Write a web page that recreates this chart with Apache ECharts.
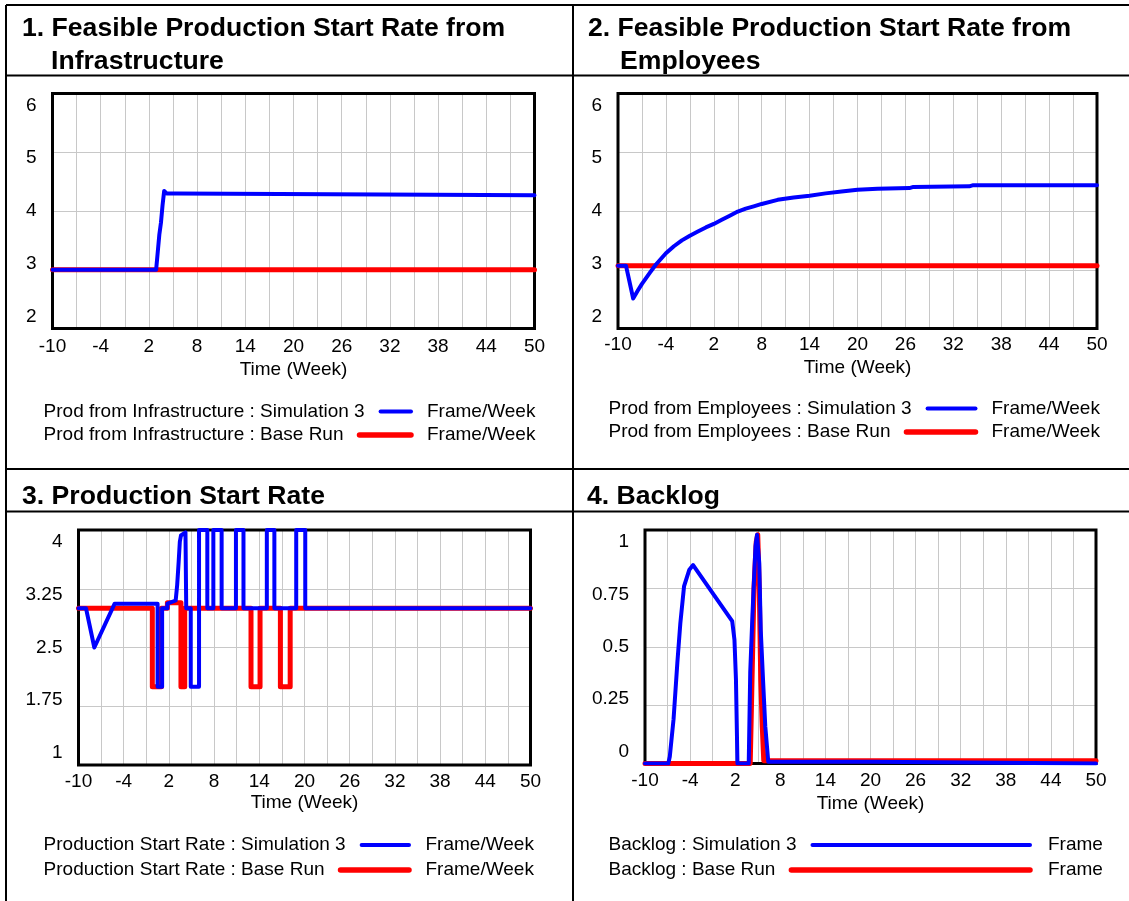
<!DOCTYPE html>
<html>
<head>
<meta charset="utf-8">
<script src="https://cdn.jsdelivr.net/npm/echarts@6/dist/echarts.min.js"></script>
<style>
html,body{margin:0;padding:0;background:#ffffff;}
#chart{width:1129px;height:901px;}
</style>
</head>
<body>
<div id="chart"></div>
<script>
// ---------------- DATA ----------------
const titles1 = ['1. Feasible Production Start Rate from', 'Infrastructure'];
const titles2 = ['2. Feasible Production Start Rate from', 'Employees'];
const titles3 = ['3. Production Start Rate'];
const titles4 = ['4. Backlog'];

const xAxisTitle = 'Time (Week)';
const xTickLabels = [-10, -4, 2, 8, 14, 20, 26, 32, 38, 44, 50];
const yTicks1 = [2, 3, 4, 5, 6];
const yTicks2 = [2, 3, 4, 5, 6];
const yTicks3 = [1, 1.75, 2.5, 3.25, 4];
const yTicks4 = [0, 0.25, 0.5, 0.75, 1];

const legend1Names = ['Prod from Infrastructure : Simulation 3', 'Prod from Infrastructure : Base Run'];
const legend2Names = ['Prod from Employees : Simulation 3', 'Prod from Employees : Base Run'];
const legend3Names = ['Production Start Rate : Simulation 3', 'Production Start Rate : Base Run'];
const legend4Names = ['Backlog : Simulation 3', 'Backlog : Base Run'];
const units1 = ['Frame/Week', 'Frame/Week'];
const units2 = ['Frame/Week', 'Frame/Week'];
const units3 = ['Frame/Week', 'Frame/Week'];
const units4 = ['Frame', 'Frame'];

// Panel 1: Prod from Infrastructure
const infraSimT = [-10, 2.9, 3.1, 3.3, 3.5, 3.7, 3.9, 4.2, 5.5, 5.7, 50];
const infraSimV = [3, 3, 3.3, 3.6, 3.8, 4.1, 4.34, 4.30, 4.30, 4.27, 4.27];
const infraBaseT = [-10, 50];
const infraBaseV = [3, 3];

// Panel 2: Prod from Employees
const empSimT = [-10, -9.0, -8.1, -7.5, -7, -6, -5.3, -4, -3, -2, -1, 0, 1, 2, 3, 4, 5, 6, 7, 8, 10, 12, 14, 16, 18, 20, 22.5, 26.5, 27, 34, 34.5, 50];
const empSimV = [3.07, 3.07, 2.51, 2.65, 2.76, 2.95, 3.08, 3.28, 3.4, 3.5, 3.58, 3.65, 3.72, 3.78, 3.85, 3.92, 3.99, 4.04, 4.08, 4.12, 4.19, 4.23, 4.26, 4.3, 4.33, 4.36, 4.38, 4.39, 4.41, 4.42, 4.44, 4.44];
const empBaseT = [-10, 50];
const empBaseV = [3.07, 3.07];

// Panel 3: Production Start Rate
const startSimT = [-10, -9.0, -7.9, -5.2, 0.5, 0.5, 1.1, 1.1, 1.8, 1.8, 2.9, 3.1, 3.3, 3.45, 3.6, 4.2, 4.3, 4.9, 4.9, 6.0, 6.0, 7.1, 7.1, 7.9, 7.9, 9.0, 9.0, 10.9, 10.9, 11.9, 11.9, 15.0, 15.0, 16.0, 16.0, 18.9, 18.9, 20.1, 20.1, 50];
const startSimV = [3, 3, 2.5, 3.06, 3.06, 2, 2, 3, 3, 3.06, 3.1, 3.3, 3.6, 3.85, 3.93, 3.97, 3, 3, 2, 2, 4, 4, 3, 3, 4, 4, 3, 3, 4, 4, 3, 3, 4, 4, 3, 3, 4, 4, 3, 3];
const startBaseT = [-10, -0.2, -0.2, 1.0, 1.0, 1.8, 1.8, 3.6, 3.6, 4.1, 4.1, 12.9, 12.9, 14.1, 14.1, 16.8, 16.8, 18.1, 18.1, 50];
const startBaseV = [3, 3, 2, 2, 3, 3, 3.07, 3.07, 2, 2, 3, 3, 2, 2, 3, 3, 2, 2, 3, 3];

// Panel 4: Backlog
const backlogSimT = [-10, -6.9, -6.7, -6.2, -5.7, -5.3, -4.8, -4.1, -3.6, 1.6, 1.9, 2.1, 2.3, 3.8, 4.0, 4.3, 4.7, 4.9, 5.2, 5.4, 5.7, 6.0, 6.4, 20.4, 20.6, 50];
const backlogSimV = [0, 0, 0.03, 0.19, 0.43, 0.6, 0.76, 0.83, 0.85, 0.61, 0.53, 0.36, 0, 0, 0.39, 0.64, 0.93, 0.98, 0.86, 0.57, 0.36, 0.16, 0.007, 0.007, 0, 0];
const backlogBaseT = [-10, 4.0, 4.2, 4.5, 4.8, 5.0, 5.2, 5.4, 5.6, 5.8, 50];
const backlogBaseV = [0, 0, 0.3, 0.75, 0.95, 0.98, 0.75, 0.36, 0.16, 0.012, 0.012];

// ---------------- LAYOUT ----------------
const FONT = '"Liberation Sans", Arial, sans-serif';
const BLUE = '#0000ff';
const RED = '#ff0000';
const W = 1129, H = 901;

const panels = [
  { grid: {left: 52.5, top: 93.5, width: 482, height: 235}, ticks: yTicks1, names: legend1Names, units: units1,
    sim: [infraSimT, infraSimV], base: [infraBaseT, infraBaseV],
    title: titles1, titleX: 22, titleX2: 51, titleY: 28.5,
    legY: [411.5, 435], legX: 43.6, lineEnd: 411, unitX: 427, labelMargin: 9, nameGap: 32 },
  { grid: {left: 618, top: 93.5, width: 479, height: 235}, ticks: yTicks2, names: legend2Names, units: units2,
    sim: [empSimT, empSimV], base: [empBaseT, empBaseV],
    title: titles2, titleX: 588, titleX2: 620, titleY: 28.5,
    legY: [408.5, 432], legX: 608.5, lineEnd: 975.5, unitX: 991.5, labelMargin: 7, nameGap: 30 },
  { grid: {left: 78.5, top: 530, width: 452, height: 235}, ticks: yTicks3, names: legend3Names, units: units3,
    sim: [startSimT, startSimV], base: [startBaseT, startBaseV],
    title: titles3, titleX: 22, titleY: 496.5,
    legY: [845, 870], legX: 43.6, lineEnd: 409, unitX: 425.5, labelMargin: 7, nameGap: 28 },
  { grid: {left: 645, top: 530, width: 451, height: 233.5}, ticks: yTicks4, names: legend4Names, units: units4,
    sim: [backlogSimT, backlogSimV], base: [backlogBaseT, backlogBaseV],
    title: titles4, titleX: 587, titleY: 496.5,
    legY: [845, 870], legX: 608.5, lineEnd: 1030, unitX: 1048, labelMargin: 8, nameGap: 31 }
];

const LABEL_INSET = 12;

function pairs(t, v) { return t.map((x, i) => [x, v[i]]); }

const measureCtx = document.createElement('canvas').getContext('2d');
function textWidth(str, font) { measureCtx.font = font; return measureCtx.measureText(str).width; }

const grids = [], xAxes = [], yAxes = [], series = [], graphics = [];

panels.forEach((p, k) => {
  grids.push(Object.assign({ show: false, containLabel: false }, p.grid));
  const lo = p.ticks[0], hi = p.ticks[p.ticks.length - 1];
  const hgt = p.grid.height;
  const d = (hi - lo) * LABEL_INSET / (hgt - 2 * LABEL_INSET);

  xAxes.push({
    type: 'value', gridIndex: k, min: xTickLabels[0], max: xTickLabels[xTickLabels.length - 1], interval: 3,
    axisLine: { show: false }, axisTick: { show: false },
    splitLine: { show: true, lineStyle: { color: '#c8c8c8', width: 1 } },
    axisLabel: { color: '#000', fontFamily: FONT, fontSize: 19, margin: p.labelMargin,
      formatter: v => (xTickLabels.indexOf(Math.round(v)) >= 0 && Math.abs(v - Math.round(v)) < 1e-6) ? String(Math.round(v)) : '' },
    name: xAxisTitle, nameLocation: 'middle', nameGap: p.nameGap,
    nameTextStyle: { color: '#000', fontFamily: FONT, fontSize: 19 }
  });
  yAxes.push({
    type: 'value', gridIndex: k, min: lo, max: hi, interval: (hi - lo) / 4,
    axisLine: { show: false }, axisTick: { show: false }, axisLabel: { show: false },
    splitLine: { show: true, lineStyle: { color: '#c8c8c8', width: 1 } }
  });
  yAxes.push({
    type: 'value', gridIndex: k, position: 'left', min: lo - d, max: hi + d,
    axisLine: { show: false }, axisTick: { show: false }, splitLine: { show: false },
    axisLabel: { show: true, customValues: p.ticks, color: '#000', fontFamily: FONT, fontSize: 19, margin: 16,
      showMinLabel: true, showMaxLabel: true }
  });

  series.push({
    type: 'line', xAxisIndex: k, yAxisIndex: 2 * k, data: pairs(p.base[0], p.base[1]),
    symbol: 'none', lineStyle: { color: RED, width: 5, cap: 'round', join: 'round' }, silent: true, z: 3
  });
  series.push({
    type: 'line', xAxisIndex: k, yAxisIndex: 2 * k, data: pairs(p.sim[0], p.sim[1]),
    symbol: 'none', lineStyle: { color: BLUE, width: 4, cap: 'round', join: 'round' }, silent: true, z: 4
  });

  // plot frame (above gridlines, below series)
  graphics.push({ type: 'rect', silent: true, z: 1,
    shape: { x: p.grid.left, y: p.grid.top, width: p.grid.width, height: p.grid.height },
    style: { fill: null, stroke: '#000', lineWidth: 3 } });

  // titles
  const tfont = 'bold 26.6px ' + FONT;
  graphics.push({ type: 'text', silent: true, style: { text: p.title[0], x: p.titleX, y: p.titleY, font: tfont, fill: '#000', verticalAlign: 'middle', textVerticalAlign: 'middle' } });
  if (p.title.length > 1) {
    graphics.push({ type: 'text', silent: true, style: { text: p.title[1], x: p.titleX2, y: p.titleY + 33, font: tfont, fill: '#000', verticalAlign: 'middle', textVerticalAlign: 'middle' } });
  }

  // legend rows
  const lfont = '19px ' + FONT;
  const colors = [BLUE, RED];
  const widths = [4, 5.5];
  p.names.forEach((nm, r) => {
    const y = p.legY[r];
    const tw = textWidth(nm, lfont);
    graphics.push({ type: 'text', silent: true, style: { text: nm, x: p.legX, y: y, font: lfont, fill: '#000', verticalAlign: 'middle', textVerticalAlign: 'middle' } });
    graphics.push({ type: 'line', silent: true, shape: { x1: p.legX + tw + 16, y1: y, x2: p.lineEnd, y2: y },
      style: { stroke: colors[r], lineWidth: widths[r], lineCap: 'round' } });
    graphics.push({ type: 'text', silent: true, style: { text: p.units[r], x: p.unitX, y: y, font: lfont, fill: '#000', verticalAlign: 'middle', textVerticalAlign: 'middle' } });
  });
});

// outer frame and separators
const frameLines = [
  [6, 5, W, 5], [6, 5, 6, H], [573, 5, 573, H],
  [6, 75.5, W, 75.5], [6, 469, W, 469], [6, 511.5, W, 511.5]
];
frameLines.forEach(l => graphics.push({ type: 'line', silent: true, shape: { x1: l[0], y1: l[1], x2: l[2], y2: l[3] }, style: { stroke: '#000', lineWidth: 2 } }));

const chart = echarts.init(document.getElementById('chart'), null, { renderer: 'canvas', width: W, height: H });
chart.setOption({
  animation: false,
  backgroundColor: '#ffffff',
  grid: grids,
  xAxis: xAxes,
  yAxis: yAxes,
  series: series,
  graphic: { elements: graphics }
});
</script>
</body>
</html>
